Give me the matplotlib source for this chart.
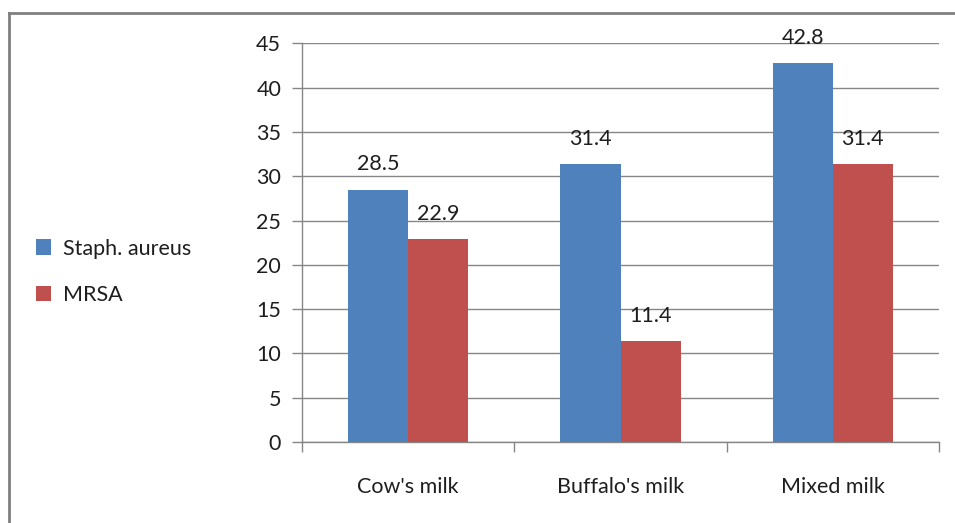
import numpy as np
import matplotlib.pyplot as plt
from matplotlib.lines import Line2D
from matplotlib.patches import Patch

categories = ["Cow's milk", "Buffalo's milk", "Mixed milk"]
staph = [28.5, 31.4, 42.8]
mrsa = [22.9, 11.4, 31.4]
series_names = ["Staph. aureus", "MRSA"]
yticks = [0, 5, 10, 15, 20, 25, 30, 35, 40, 45]


def main():
    plt.rcParams['font.family'] = ['Lato', 'DejaVu Sans']
    fig = plt.figure(figsize=(9.55, 5.23), dpi=100)
    ax = fig.add_axes([302 / 955, 81 / 523, 637 / 955, 398.5 / 523])

    blue = '#4F81BD'
    red = '#C0504D'
    grid_c = '#868686'
    txt_c = '#1e1e1e'
    fs = 15.5

    x = np.arange(len(categories))
    w = 0.283
    b1 = ax.bar(x - w / 2, staph, w, color=blue, zorder=3)
    b2 = ax.bar(x + w / 2, mrsa, w, color=red, zorder=3)

    for bars, vals in ((b1, staph), (b2, mrsa)):
        for r, v in zip(bars, vals):
            ax.annotate(f"{v}", (r.get_x() + r.get_width() / 2, v),
                        xytext=(0, 11), textcoords='offset points',
                        ha='center', va='bottom', fontsize=fs, color=txt_c)

    ax.set_xlim(-0.5, len(categories) - 0.5)
    ax.set_ylim(0, 45)
    ax.set_yticks(yticks)
    ax.yaxis.grid(True, color=grid_c, linewidth=1, zorder=0)
    ax.set_axisbelow(True)

    ax.set_xticks(x)
    ax.set_xticklabels(categories)
    ax.set_xticks(np.arange(-0.5, len(categories)), minor=True)
    ax.tick_params(axis='x', which='major', length=0, pad=25, labelsize=fs,
                   labelcolor=txt_c)
    ax.tick_params(axis='x', which='minor', length=7, width=1, color=grid_c,
                   direction='out')
    ax.tick_params(axis='y', length=7, width=1, color=grid_c, pad=8,
                   labelsize=fs, labelcolor=txt_c)

    for s in ('top', 'right'):
        ax.spines[s].set_visible(False)
    for s in ('left', 'bottom'):
        ax.spines[s].set_color(grid_c)
        ax.spines[s].set_linewidth(1)

    handles = [Patch(facecolor=blue), Patch(facecolor=red)]
    fig.legend(handles, series_names, loc='center left',
               bbox_to_anchor=(17 / 955, 1 - 272 / 523), frameon=False,
               fontsize=fs, handlelength=0.7, handleheight=0.7,
               handletextpad=0.55, labelspacing=1.25, labelcolor=txt_c)

    # outer chart border
    fig.add_artist(Line2D([9 / 955, 9 / 955], [0, 1 - 13 / 523],
                          color='#808080', linewidth=2, transform=fig.transFigure))
    fig.add_artist(Line2D([9 / 955, 1], [1 - 13 / 523, 1 - 13 / 523],
                          color='#808080', linewidth=2, transform=fig.transFigure))

    fig.savefig('out.png', dpi=100)


if __name__ == '__main__':
    main()
